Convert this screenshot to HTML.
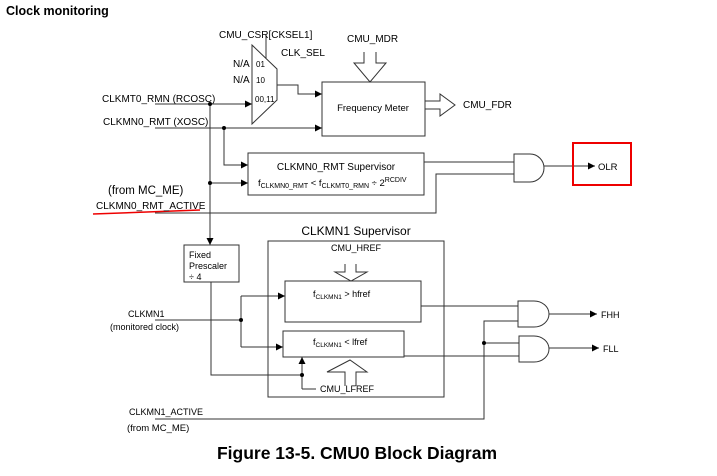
<!DOCTYPE html>
<html><head><meta charset="utf-8"><style>
html,body{margin:0;padding:0;background:#fff;}
svg{display:block;}
text{font-family:"Liberation Sans",Arial,sans-serif;fill:#000;}
</style></head><body>
<svg width="717" height="476" viewBox="0 0 717 476" xmlns="http://www.w3.org/2000/svg">
<defs>
<marker id="a" viewBox="0 0 10 10" refX="10" refY="5" markerWidth="7" markerHeight="7" orient="auto" markerUnits="userSpaceOnUse"><path d="M0,0 L10,5 L0,10 z" fill="#000"/></marker>
</defs>
<text x="6" y="15" font-size="12.5" font-weight="bold">Clock monitoring</text>
<g stroke="#333" stroke-width="1" fill="none">
<!-- mux -->
<polygon points="252,45 277,69 277,100 252,124" fill="#fff"/>
<line x1="266" y1="36" x2="266" y2="58"/>
<polyline points="277,85 298,85 298,94 322,94" marker-end="url(#a)"/>
<!-- freq meter -->
<rect x="322" y="82" width="103" height="54"/>
<polyline points="364,52 364,63 354,63 370,82 386,63 376,63 376,52"/>
<polyline points="425,101 440,101 440,94 455,105 440,116 440,109 425,109"/>
<!-- input lines -->
<line x1="155" y1="104" x2="252" y2="104" marker-end="url(#a)"/>
<line x1="155" y1="128" x2="322" y2="128" marker-end="url(#a)"/>
<polyline points="224,128 224,165 248,165" marker-end="url(#a)"/>
<line x1="210" y1="104" x2="210" y2="245" marker-end="url(#a)"/>
<line x1="210" y1="183" x2="248" y2="183" marker-end="url(#a)"/>
<!-- supervisor -->
<rect x="248" y="153" width="176" height="42"/>
<line x1="424" y1="162" x2="514" y2="162"/>
<polyline points="155,213 436,213 436,174 514,174"/>
<path d="M514,154 L530,154 A14,14 0 0 1 530,182 L514,182 Z"/>
<line x1="544" y1="166" x2="595" y2="166" marker-end="url(#a)"/>
<!-- prescaler -->
<rect x="184" y="245" width="55" height="37"/>
<polyline points="211,282 211,375 302,375"/>
<!-- CLKMN1 supervisor -->
<rect x="268" y="241" width="176" height="156"/>
<rect x="285" y="281" width="136" height="41"/>
<rect x="283" y="331" width="121" height="26"/>
<polyline points="345,264 345,272 335,272 351,281 367,272 356,272 356,264"/>
<polyline points="345,386 345,372 327,372 350,360 367,372 356,372 356,386"/>
<line x1="155" y1="320" x2="241" y2="320"/>
<polyline points="241,296 241,347"/>
<line x1="241" y1="296" x2="285" y2="296" marker-end="url(#a)"/>
<line x1="241" y1="347" x2="283" y2="347" marker-end="url(#a)"/>
<line x1="302" y1="389" x2="302" y2="357" marker-end="url(#a)"/>
<line x1="302" y1="389" x2="316" y2="389"/>
<line x1="421" y1="306" x2="518" y2="306"/>
<line x1="404" y1="356" x2="519" y2="356"/>
<polyline points="155,419 484,419 484,321 518,321"/>
<line x1="484" y1="343" x2="519" y2="343"/>
<path d="M518,301 L534,301 A15,13 0 0 1 534,327 L518,327 Z"/>
<path d="M519,336 L534,336 A15,13 0 0 1 534,362 L519,362 Z"/>
<line x1="549" y1="314" x2="597" y2="314" marker-end="url(#a)"/>
<line x1="549" y1="348" x2="599" y2="348" marker-end="url(#a)"/>
</g>
<g fill="#000">
<circle cx="210" cy="104" r="2"/><circle cx="224" cy="128" r="2"/><circle cx="210" cy="183" r="2"/>
<circle cx="241" cy="320" r="2"/><circle cx="302" cy="375" r="2"/><circle cx="484" cy="343" r="2"/>
</g>
<rect x="573" y="143" width="58" height="42" fill="none" stroke="#e00" stroke-width="2"/>
<path d="M93,214 Q150,212 200,210" stroke="#e00" stroke-width="1.5" fill="none"/>
<g font-size="10">
<text x="219" y="38">CMU_CSR[CKSEL1]</text>
<text x="281" y="56">CLK_SEL</text>
<text x="347" y="42">CMU_MDR</text>
<text x="233" y="67">N/A</text><text x="256" y="67" font-size="8">01</text>
<text x="233" y="83">N/A</text><text x="256" y="83" font-size="8">10</text>
<text x="255" y="102" font-size="8">00,11</text>
<text x="373" y="111" text-anchor="middle" font-size="9.5">Frequency Meter</text>
<text x="463" y="108">CMU_FDR</text>
<text x="102" y="102">CLKMT0_RMN (RCOSC)</text>
<text x="103" y="125">CLKMN0_RMT (XOSC)</text>
<text x="336" y="170" text-anchor="middle">CLKMN0_RMT Supervisor</text>
<text x="258" y="186" font-size="9.5">f<tspan font-size="7" dy="2">CLKMN0_RMT</tspan><tspan dy="-2"> &lt; f</tspan><tspan font-size="7" dy="2">CLKMT0_RMN</tspan><tspan dy="-2"> ÷ 2</tspan><tspan font-size="7" dy="-4">RCDIV</tspan></text>
<text x="108" y="194" font-size="11.5">(from MC_ME)</text>
<text x="96" y="209">CLKMN0_RMT_ACTIVE</text>
<text x="598" y="170" font-size="9.5">OLR</text>
<text x="356" y="235" text-anchor="middle" font-size="12">CLKMN1 Supervisor</text>
<text x="356" y="251" text-anchor="middle" font-size="9">CMU_HREF</text>
<text x="189" y="258" font-size="9">Fixed</text>
<text x="189" y="269" font-size="9">Prescaler</text>
<text x="189" y="280" font-size="9">÷ 4</text>
<text x="313" y="297" font-size="9">f<tspan font-size="6.5" dy="2">CLKMN1</tspan><tspan dy="-2"> &gt; hfref</tspan></text>
<text x="313" y="345" font-size="9">f<tspan font-size="6.5" dy="2">CLKMN1</tspan><tspan dy="-2"> &lt; lfref</tspan></text>
<text x="320" y="392" font-size="9">CMU_LFREF</text>
<text x="128" y="317" font-size="9">CLKMN1</text>
<text x="110" y="330" font-size="9">(monitored clock)</text>
<text x="129" y="415" font-size="9">CLKMN1_ACTIVE</text>
<text x="127" y="431" font-size="9.5">(from MC_ME)</text>
<text x="601" y="318" font-size="9">FHH</text>
<text x="603" y="352" font-size="9">FLL</text>
</g>
<text x="357" y="459" text-anchor="middle" font-size="17.5" font-weight="bold">Figure 13-5. CMU0 Block Diagram</text>
</svg>
</body></html>
